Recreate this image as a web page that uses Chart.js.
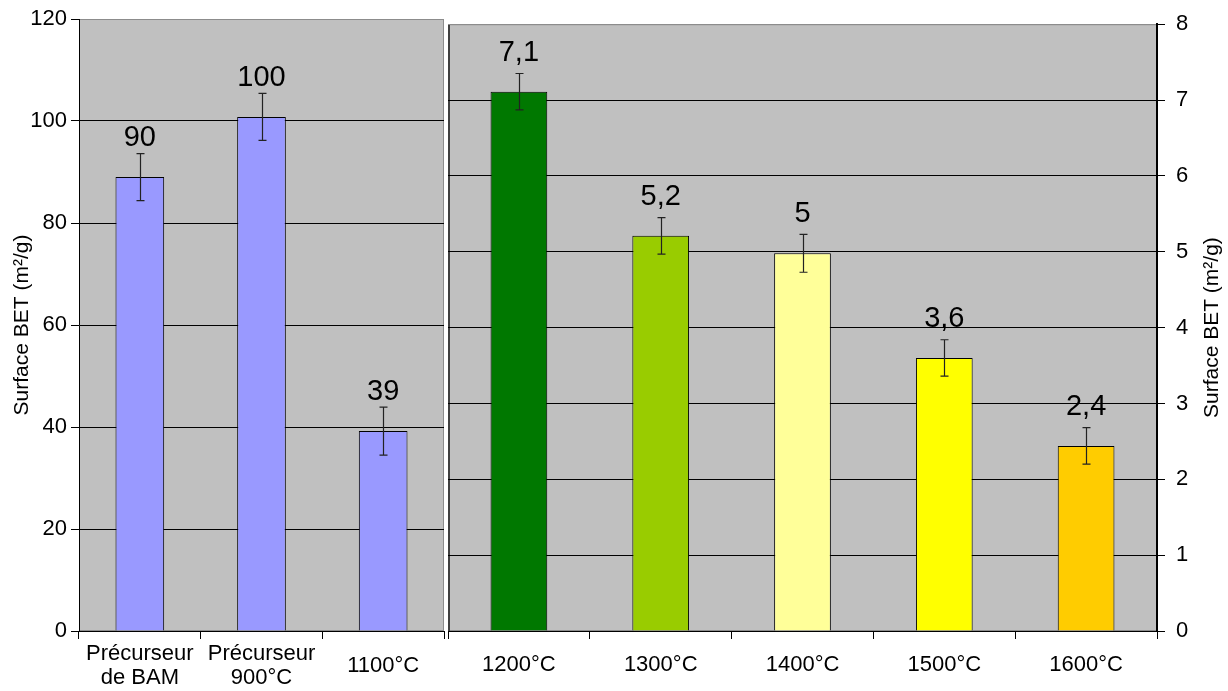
<!DOCTYPE html>
<html>
<head>
<meta charset="utf-8">
<script src="https://cdn.jsdelivr.net/npm/chart.js@4.4.1/dist/chart.umd.min.js"></script>
<style>
  html, body { margin: 0; padding: 0; background: #fff; }
  #wrap { position: relative; width: 1228px; height: 691px; }
  canvas { position: absolute; top: 0; }
  #left { left: 0; }
  #right { left: 446px; }
</style>
</head>
<body>
<div id="wrap">
  <canvas id="left" width="446" height="691"></canvas>
  <canvas id="right" width="782" height="691"></canvas>
</div>
<script>
// left panel: precursors and 1100°C (scale 0-120)
const leftCategories = [['Précurseur', 'de BAM'], ['Précurseur', '900°C'], '1100°C']
const leftValues = [89, 100.8, 39.2]
const leftErrors = [4.6, 4.6, 4.7]
const leftLabels = ['90', '100', '39']
const leftColors = ['#9999ff', '#9999ff', '#9999ff']

// right panel: 1200-1600°C (scale 0-8)
const rightCategories = ['1200°C', '1300°C', '1400°C', '1500°C', '1600°C']
const rightValues = [7.11, 5.21, 4.98, 3.6, 2.44]
const rightErrors = [0.24, 0.24, 0.25, 0.24, 0.24]
const rightLabels = ['7,1', '5,2', '5', '3,6', '2,4']
const rightColors = ['#007800', '#99cc00', '#ffff99', '#ffff00', '#ffcc00']

const axisTitle = 'Surface BET (m²/g)'
const FONT = '"Liberation Sans", Arial, sans-serif'

const plotBackground = {
  id: 'plotBackground',
  beforeDraw(chart, args, opts) {
    const { ctx, chartArea: a } = chart
    ctx.save()
    ctx.fillStyle = '#c0c0c0'
    ctx.fillRect(a.left, a.top, a.width, a.height)
    ctx.strokeStyle = '#8c8c8c'
    ctx.lineWidth = 1
    ctx.strokeRect(a.left + 0.5, a.top + 0.5, a.width - 1, a.height - 1)
    if (opts.leftEdge) {
      ctx.strokeStyle = opts.leftEdge
      ctx.lineWidth = 2
      ctx.beginPath()
      ctx.moveTo(a.left + 1, a.top)
      ctx.lineTo(a.left + 1, a.bottom)
      ctx.stroke()
    }
    ctx.restore()
  }
}

const errorBars = {
  id: 'errorBars',
  afterDatasetsDraw(chart, args, opts) {
    const { ctx } = chart
    const yScale = chart.scales.y
    const values = chart.data.datasets[0].data
    chart.getDatasetMeta(0).data.forEach((bar, i) => {
      const v = values[i]
      const e = opts.errors[i]
      const yTop = yScale.getPixelForValue(v + e)
      const yBot = yScale.getPixelForValue(v - e)
      const x = Math.round(bar.x) + 0.5
      ctx.save()
      ctx.strokeStyle = '#222'
      ctx.lineWidth = 1.2
      ctx.beginPath()
      ctx.moveTo(x, yTop)
      ctx.lineTo(x, yBot)
      ctx.moveTo(x - 4, yTop)
      ctx.lineTo(x + 4, yTop)
      ctx.moveTo(x - 4, yBot)
      ctx.lineTo(x + 4, yBot)
      ctx.stroke()
      ctx.fillStyle = '#000'
      ctx.font = '29px ' + FONT
      ctx.textAlign = 'center'
      ctx.textBaseline = 'alphabetic'
      ctx.fillText(opts.labels[i], bar.x, yScale.getPixelForValue(v) - 31)
      ctx.restore()
    })
  }
}

const rightTitle = {
  id: 'rightTitle',
  afterDraw(chart, args, opts) {
    if (!opts.text) return
    const { ctx, chartArea: a } = chart
    ctx.save()
    ctx.translate(chart.width - 16, (a.top + a.bottom) / 2)
    ctx.rotate(-Math.PI / 2)
    ctx.fillStyle = '#000'
    ctx.font = '21px ' + FONT
    ctx.textAlign = 'center'
    ctx.textBaseline = 'middle'
    ctx.fillText(opts.text, 0, 0)
    ctx.restore()
  }
}

function makeChart(canvas, cfg) {
  return new Chart(canvas, {
    type: 'bar',
    data: {
      labels: cfg.categories,
      datasets: [{
        data: cfg.values,
        backgroundColor: cfg.colors,
        borderColor: '#000',
        borderWidth: 1,
        categoryPercentage: 1,
        barPercentage: 0.4
      }]
    },
    plugins: [plotBackground, errorBars, rightTitle],
    options: {
      responsive: false,
      animation: false,
      devicePixelRatio: 1,
      layout: { padding: cfg.padding },
      plugins: {
        legend: { display: false },
        tooltip: { enabled: false },
        plotBackground: { leftEdge: cfg.leftEdge },
        errorBars: { errors: cfg.errors, labels: cfg.labels },
        rightTitle: { text: cfg.rightTitle }
      },
      scales: {
        x: {
          offset: true,
          grid: {
            offset: true,
            drawOnChartArea: false,
            tickLength: 8,
            color: '#000'
          },
          border: { color: '#000' },
          ticks: {
            color: '#000',
            font: { family: FONT, size: 22, lineHeight: 1.1 },
            padding: cfg.xPadding,
            crossAlign: cfg.crossAlign,
            maxRotation: 0,
            autoSkip: false
          },
          afterFit: scale => { scale.height = 60 }
        },
        y: {
          position: cfg.yPosition,
          min: 0,
          max: cfg.max,
          ticks: {
            stepSize: cfg.step,
            color: '#000',
            font: { family: FONT, size: 22 },
            padding: cfg.yPadding
          },
          grid: {
            color: ctx => (ctx.tick && ctx.tick.value === cfg.max) ? '#8c8c8c' : '#000',
            tickColor: '#000',
            tickLength: 8
          },
          border: { color: '#000', width: cfg.borderWidth },
          title: {
            display: cfg.showTitle,
            text: axisTitle,
            color: '#000',
            font: { family: FONT, size: 21 },
            padding: { top: 10, bottom: 0 }
          },
          afterFit: scale => { scale.width = cfg.yWidth }
        }
      }
    }
  })
}

makeChart(document.getElementById('left'), {
  categories: leftCategories,
  values: leftValues,
  errors: leftErrors,
  labels: leftLabels,
  colors: leftColors,
  max: 120,
  step: 20,
  yPosition: 'left',
  yWidth: 79,
  yPadding: 4,
  borderWidth: 1,
  showTitle: true,
  xPadding: 15,
  crossAlign: 'center',
  padding: { top: 19, right: 2, left: 0, bottom: 0 }
})

makeChart(document.getElementById('right'), {
  categories: rightCategories,
  values: rightValues,
  errors: rightErrors,
  labels: rightLabels,
  colors: rightColors,
  max: 8,
  step: 1,
  yPosition: 'right',
  yWidth: 71,
  yPadding: 11,
  borderWidth: 2,
  showTitle: false,
  rightTitle: axisTitle,
  leftEdge: '#404040',
  xPadding: 14,
  crossAlign: 'near',
  padding: { top: 19, right: 0, left: 2, bottom: 0 }
})
</script>
</body>
</html>
